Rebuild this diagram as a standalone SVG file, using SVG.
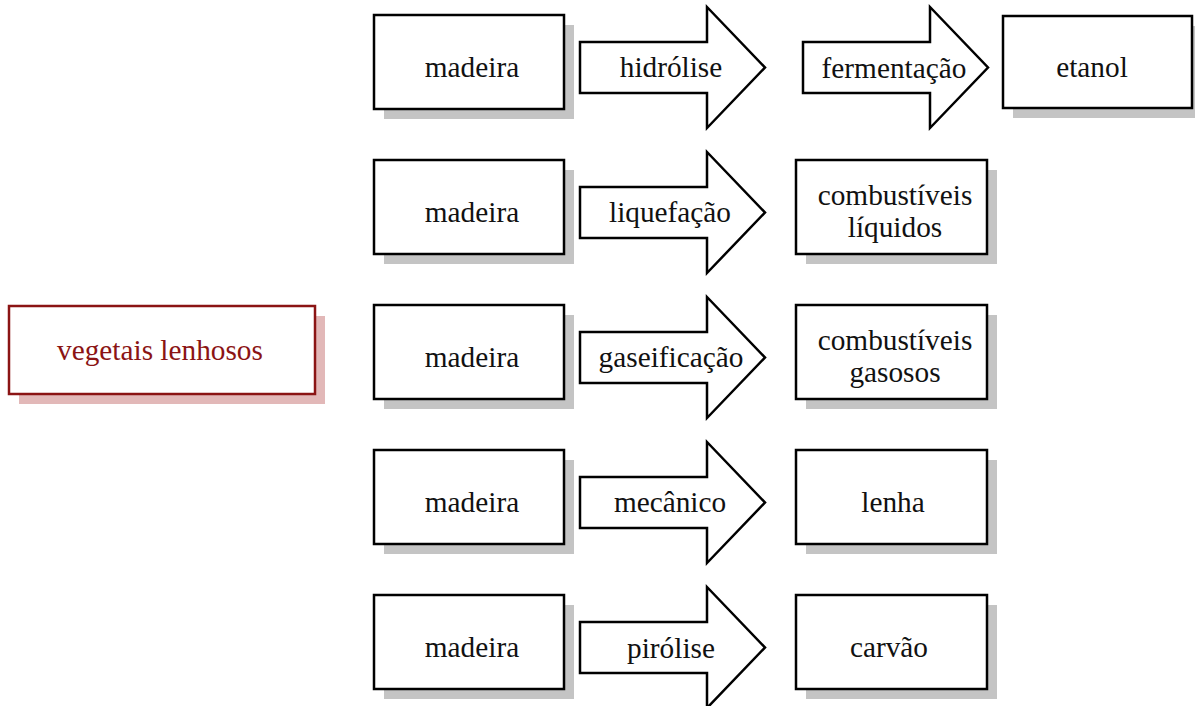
<svg xmlns="http://www.w3.org/2000/svg" width="1195" height="706" viewBox="0 0 1195 706">
  <style>
    .box { fill: #ffffff; stroke: #000000; stroke-width: 2.5; }
    .shadow { fill: #c4c4c4; }
    .root-box { fill: #ffffff; stroke: #8b1414; stroke-width: 2.5; }
    .root-shadow { fill: #e2b8b8; }
    .arrow { fill: #ffffff; stroke: #000000; stroke-width: 2.5; stroke-linejoin: miter; }
    .lbl { font-size: 29.3px; fill: #111111; text-anchor: middle; }
    .root-label { fill: #8b1414; }
  </style>
  <defs>
    <!-- block arrow, origin at body left / row top -->
    <path id="blockArrow" d="M0,27 H127 V-8 L185,52.5 L127,113 V78 H0 Z"/>
    <rect id="mBox" width="190" height="94"/>
    <rect id="oBox" width="191" height="94"/>
  </defs>

  <rect width="1195" height="706" fill="#ffffff"/>

  <g font-family="Liberation Serif, Times New Roman, serif">
    <!-- source node -->
    <g id="vegetais-lenhosos">
      <rect class="root-shadow" x="19" y="316" width="306" height="88"/>
      <rect class="root-box" x="9" y="306" width="306" height="88"/>
      <text class="lbl root-label" x="160" y="360">vegetais lenhosos</text>
    </g>

    <!-- raw material boxes -->
    <g id="madeira-1">
      <use href="#mBox" class="shadow" x="384" y="25"/>
      <use href="#mBox" class="box" x="374" y="15"/>
      <text class="lbl" x="472" y="77">madeira</text>
    </g>
    <g id="madeira-2">
      <use href="#mBox" class="shadow" x="384" y="170"/>
      <use href="#mBox" class="box" x="374" y="160"/>
      <text class="lbl" x="472" y="222">madeira</text>
    </g>
    <g id="madeira-3">
      <use href="#mBox" class="shadow" x="384" y="315"/>
      <use href="#mBox" class="box" x="374" y="305"/>
      <text class="lbl" x="472" y="367">madeira</text>
    </g>
    <g id="madeira-4">
      <use href="#mBox" class="shadow" x="384" y="460"/>
      <use href="#mBox" class="box" x="374" y="450"/>
      <text class="lbl" x="472" y="512">madeira</text>
    </g>
    <g id="madeira-5">
      <use href="#mBox" class="shadow" x="384" y="605"/>
      <use href="#mBox" class="box" x="374" y="595"/>
      <text class="lbl" x="472" y="657">madeira</text>
    </g>

    <!-- products -->
    <g id="etanol">
      <rect class="shadow" x="1013" y="26" width="189" height="92"/>
      <rect class="box" x="1003" y="16" width="189" height="92"/>
      <text class="lbl" x="1092" y="77">etanol</text>
    </g>
    <g id="combustiveis-liquidos">
      <use href="#oBox" class="shadow" x="806" y="170"/>
      <use href="#oBox" class="box" x="796" y="160"/>
      <text class="lbl" x="895" y="205">combustíveis</text>
      <text class="lbl" x="895" y="237">líquidos</text>
    </g>
    <g id="combustiveis-gasosos">
      <use href="#oBox" class="shadow" x="806" y="315"/>
      <use href="#oBox" class="box" x="796" y="305"/>
      <text class="lbl" x="895" y="350">combustíveis</text>
      <text class="lbl" x="895" y="382">gasosos</text>
    </g>
    <g id="lenha">
      <use href="#oBox" class="shadow" x="806" y="460"/>
      <use href="#oBox" class="box" x="796" y="450"/>
      <text class="lbl" x="893" y="512">lenha</text>
    </g>
    <g id="carvao">
      <use href="#oBox" class="shadow" x="806" y="605"/>
      <use href="#oBox" class="box" x="796" y="595"/>
      <text class="lbl" x="889" y="657">carvão</text>
    </g>

    <!-- process arrows -->
    <g id="connectors">
      <g id="hidrolise">
        <use href="#blockArrow" class="arrow" x="580" y="15"/>
        <text class="lbl" x="671" y="77">hidrólise</text>
      </g>
      <g id="fermentacao">
        <use href="#blockArrow" class="arrow" x="803" y="15"/>
        <text class="lbl" x="894" y="78">fermentação</text>
      </g>
      <g id="liquefacao">
        <use href="#blockArrow" class="arrow" x="580" y="160"/>
        <text class="lbl" x="670" y="222">liquefação</text>
      </g>
      <g id="gaseificacao">
        <use href="#blockArrow" class="arrow" x="580" y="305"/>
        <text class="lbl" x="671" y="367">gaseificação</text>
      </g>
      <g id="mecanico">
        <use href="#blockArrow" class="arrow" x="580" y="450"/>
        <text class="lbl" x="670" y="512">mecânico</text>
      </g>
      <g id="pirolise">
        <use href="#blockArrow" class="arrow" x="580" y="595"/>
        <text class="lbl" x="671" y="658">pirólise</text>
      </g>
    </g>
  </g>
</svg>
